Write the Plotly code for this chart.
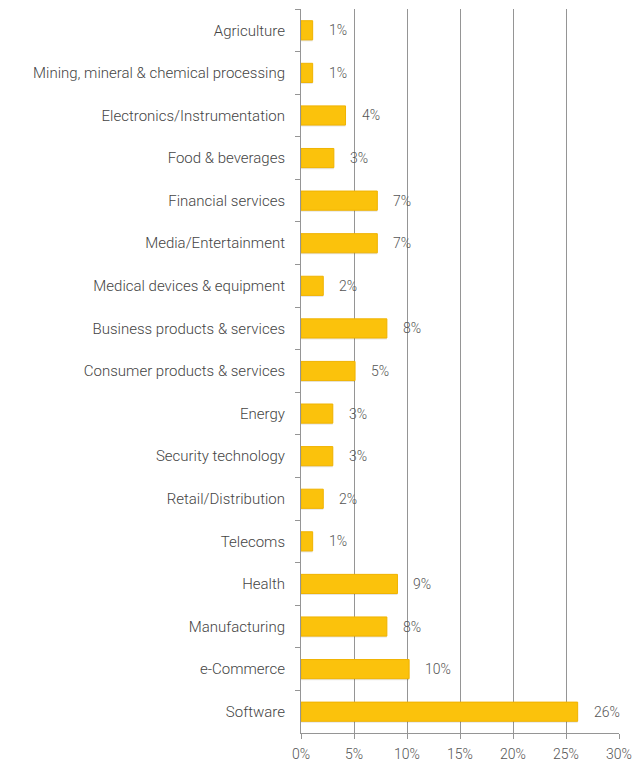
import plotly.graph_objects as go

categories = [
    "Agriculture",
    "Mining, mineral & chemical processing",
    "Electronics/Instrumentation",
    "Food & beverages",
    "Financial services",
    "Media/Entertainment",
    "Medical devices & equipment",
    "Business products & services",
    "Consumer products & services",
    "Energy",
    "Security technology",
    "Retail/Distribution",
    "Telecoms",
    "Health",
    "Manufacturing",
    "e-Commerce",
    "Software",
]
values = [1.1, 1.1, 4.2, 3.1, 7.2, 7.2, 2.1, 8.1, 5.1, 3.0, 3.0, 2.1, 1.1, 9.1, 8.1, 10.2, 26.1]
labels = ["1%", "1%", "4%", "3%", "7%", "7%", "2%", "8%", "5%", "3%", "3%", "2%", "1%", "9%", "8%", "10%", "26%"]
tick_vals = [0, 5, 10, 15, 20, 25, 30]
tick_text = ["0%", "5%", "10%", "15%", "20%", "25%", "30%"]

FONT = "Roboto"

fig = go.Figure()
# soft shadow
fig.add_trace(go.Bar(
    y=categories, x=values, orientation="h",
    width=0.45, offset=-0.19,
    marker=dict(color="rgba(0,0,0,0.10)", line=dict(width=0)),
    hoverinfo="skip", showlegend=False,
))
fig.add_trace(go.Bar(
    y=categories, x=values, orientation="h",
    width=0.45, offset=-0.225,
    marker=dict(color="#FBC20C", line=dict(color="#F0B300", width=1)),
    hoverinfo="skip", showlegend=False,
))

for c, v, t in zip(categories, values, labels):
    fig.add_annotation(
        x=v, y=c, text=t, showarrow=False, xanchor="left", yanchor="middle",
        xshift=14, font=dict(family=FONT, size=14, color="#555555", weight=300),
    )

fig.update_layout(
    width=635, height=767,
    margin=dict(l=301, r=16, t=9, b=34),
    paper_bgcolor="white", plot_bgcolor="white",
    barmode="overlay",
    font=dict(family=FONT, color="#444444", weight=300),
)
fig.update_xaxes(
    range=[0, 30], tickvals=tick_vals, ticktext=tick_text,
    showgrid=True, gridcolor="#959595", gridwidth=1,
    showline=True, linecolor="#959595",
    ticks="outside", tickcolor="#959595", ticklen=5,
    ticklabelstandoff=3,
    tickfont=dict(family=FONT, size=14, color="#555555", weight=300),
    zeroline=False, fixedrange=True, automargin=False,
)
fig.update_yaxes(
    categoryorder="array", categoryarray=categories, autorange="reversed",
    showline=True, linecolor="#959595",
    ticks="outside", tickson="boundaries", tickcolor="#959595", ticklen=5,
    ticklabelstandoff=12,
    tickfont=dict(family=FONT, size=15, color="#444444", weight=300),
    showgrid=False, fixedrange=True, automargin=False,
)

fig.write_html("out.html")
